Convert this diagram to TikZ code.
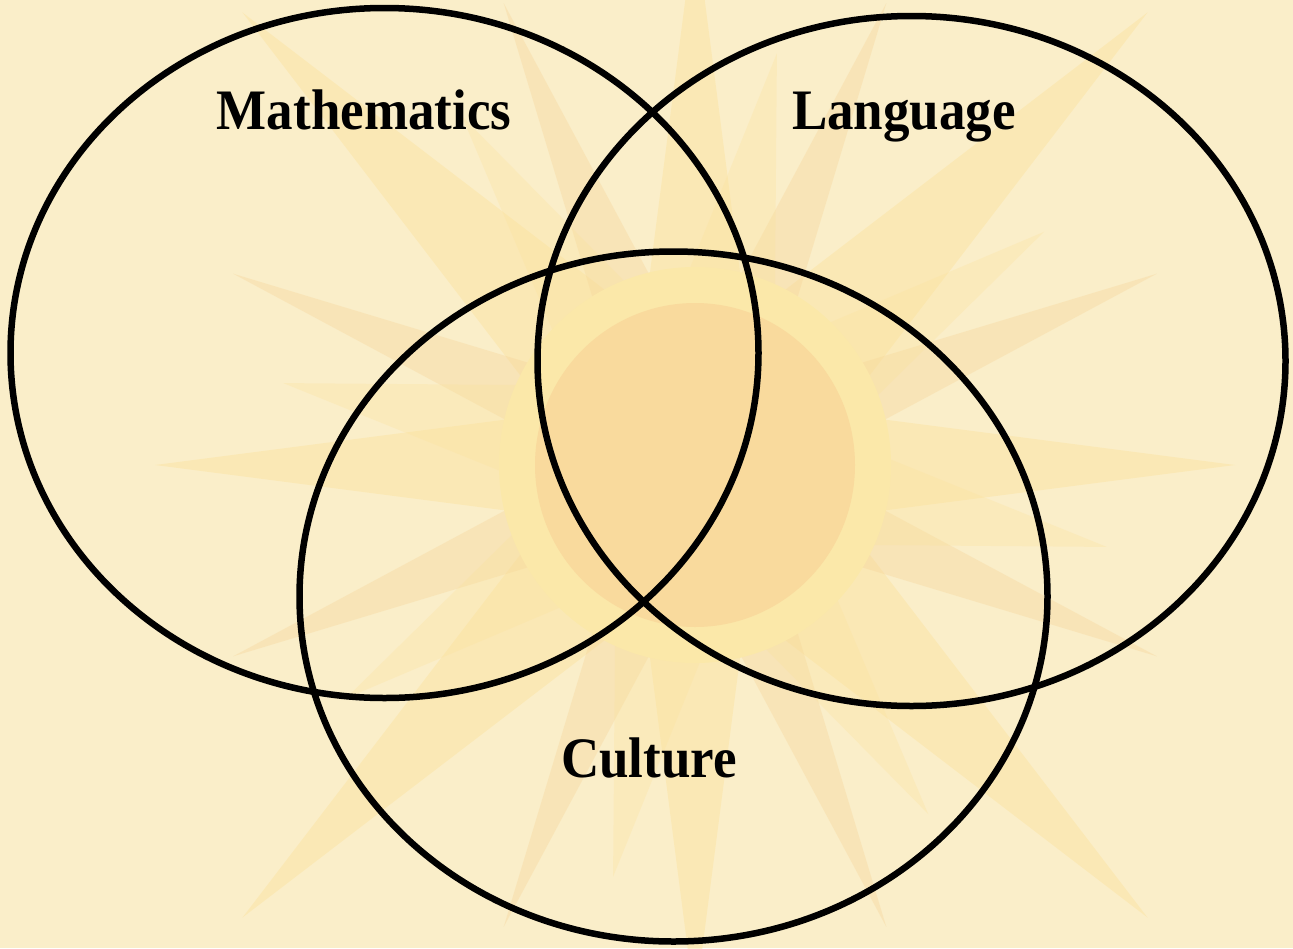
\documentclass[tikz,border=0pt]{standalone}
\usepackage{fontspec}
\setmainfont{Liberation Serif}
\usetikzlibrary{shapes.geometric}
\definecolor{paper}{HTML}{FAEEC9}
\definecolor{rayyellow}{HTML}{FBE29A}
\definecolor{rayorange}{HTML}{F7D396}
\definecolor{sundisk}{HTML}{F9DA9D}
\definecolor{sunring}{HTML}{FBE8A9}
\tikzset{
  set/.style={ellipse, draw=black, line width=6.5pt, inner sep=0pt,
              minimum width=748pt, minimum height=690pt},
  setlabel/.style={anchor=base, inner sep=0pt, yscale=1.08,
                   font=\fontsize{53}{60}\selectfont\bfseries},
  ray/.style={fill=#1, fill opacity=0.42, draw=none},
}
\begin{document}
\begin{tikzpicture}[x=1pt, y=-1pt]
  % canvas
  \fill[paper] (0,0) rectangle (1293,948);
  \useasboundingbox (0,0) rectangle (1293,948);
  \clip (0,0) rectangle (1293,948);

  % sun rays behind the sets
  \coordinate (sun) at (695,465);
  % long diagonal rays
  \foreach \a in {45,135,225,315}
    \fill[ray=rayyellow] ([shift={(\a:640)}]sun) -- ([shift={(\a+90:85)}]sun)
      -- ([shift={(\a+180:40)}]sun) -- ([shift={(\a-90:85)}]sun) -- cycle;
  % axis rays
  \foreach \a in {0,90,180,270}
    \fill[ray=rayyellow] ([shift={(\a:540)}]sun) -- ([shift={(\a+90:70)}]sun)
      -- ([shift={(\a+180:30)}]sun) -- ([shift={(\a-90:70)}]sun) -- cycle;
  % thin orange rays
  \foreach \a in {22.5,67.5,112.5,157.5,202.5,247.5,292.5,337.5}
    \fill[ray=rayorange, fill opacity=0.35] ([shift={(\a:500)}]sun)
      -- ([shift={(\a+90:50)}]sun) -- ([shift={(\a+180:20)}]sun)
      -- ([shift={(\a-90:50)}]sun) -- cycle;
  % short wide rays
  \foreach \a in {11.25,56.25,101.25,146.25,191.25,236.25,281.25,326.25}
    \fill[ray=rayyellow, fill opacity=0.28] ([shift={(\a:420)}]sun)
      -- ([shift={(\a+90:80)}]sun) -- ([shift={(\a-90:80)}]sun) -- cycle;
  % sun body
  \fill[sunring] (sun) ellipse [x radius=196, y radius=198];
  \fill[sundisk] (sun) ellipse [x radius=160, y radius=162];

  % the three sets
  \node[set] (math) at (384.5,353) {};
  \node[set] (lang) at (911.5,361) {};
  \node[set] (cult) at (673.5,596.5) {};

  % labels
  \node[setlabel] (mathlabel) at (364,129) {Mathematics};
  \node[setlabel] (langlabel) at (904,129) {Language};
  \node[setlabel] (cultlabel) at (649,777) {Culture};
\end{tikzpicture}
\end{document}
